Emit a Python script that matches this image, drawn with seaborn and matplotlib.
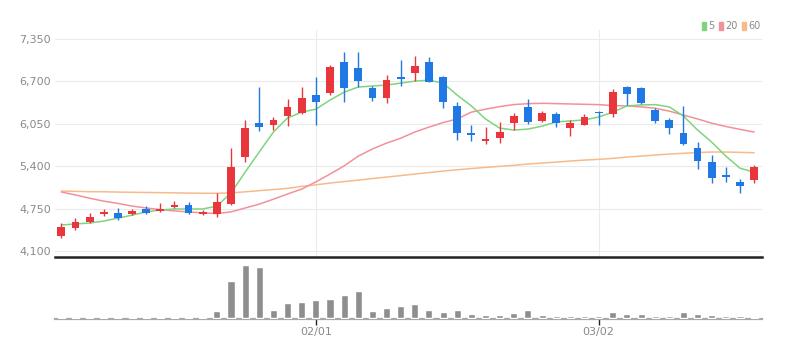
import matplotlib
matplotlib.use("Agg")
import matplotlib.pyplot as plt
from matplotlib.patches import Patch
from matplotlib.ticker import FuncFormatter
import numpy as np
import pandas as pd
import seaborn as sns

# ----------------------------------------------------------------------------
# Daily candles (50 sessions)
# ----------------------------------------------------------------------------
open_ = [4330, 4450, 4540, 4675, 4685, 4675, 4750, 4715, 4770, 4800,
         4675, 4665, 4820, 5545, 6065, 6030, 6170, 6210, 6500, 6520,
         7000, 6900, 6605, 6450, 6770, 6835, 7000, 6765, 6330, 5905,
         5790, 5830, 6060, 6305, 6095, 6200, 5980, 6040, 6225, 6200,
         6620, 6595, 6270, 6110, 5905, 5675, 5460, 5265, 5160, 5190]
close = [4475, 4550, 4625, 4700, 4600, 4715, 4685, 4750, 4805, 4685,
         4700, 4845, 5390, 5980, 6005, 6110, 6310, 6440, 6380, 6915,
         6605, 6705, 6450, 6730, 6735, 6940, 6695, 6390, 5910, 5880,
         5810, 5920, 6175, 6080, 6210, 6065, 6060, 6160, 6210, 6535,
         6505, 6365, 6095, 5980, 5735, 5485, 5225, 5230, 5095, 5385]
high = [4530, 4605, 4685, 4745, 4760, 4745, 4790, 4835, 4865, 4850,
        4730, 4990, 5675, 6110, 6620, 6155, 6425, 6620, 6765, 6950,
        7155, 7155, 6630, 6800, 7030, 7090, 7080, 6780, 6390, 6030,
        5995, 6080, 6220, 6425, 6250, 6230, 6110, 6195, 6250, 6580,
        6630, 6610, 6290, 6145, 6325, 5775, 5570, 5385, 5200, 5420]
low = [4300, 4420, 4530, 4635, 4575, 4650, 4665, 4700, 4760, 4665,
       4650, 4620, 4805, 5470, 5945, 5955, 6020, 6200, 6030, 6490,
       6390, 6620, 6400, 6375, 6635, 6710, 6690, 6290, 5795, 5790,
       5740, 5750, 5955, 6045, 6080, 6005, 5865, 6030, 6030, 6150,
       6340, 6350, 6060, 5895, 5730, 5355, 5145, 5160, 4985, 5145]

# moving averages as shown on the chart
ma5 = [4500, 4515, 4530, 4560, 4605, 4650, 4700, 4730, 4745, 4745,
       4745, 4790, 4990, 5310, 5620, 5925, 6140, 6230, 6275, 6415,
       6535, 6615, 6630, 6645, 6675, 6705, 6720, 6675, 6490, 6325,
       6125, 5985, 5955, 5970, 6015, 6080, 6095, 6110, 6155, 6230,
       6325, 6340, 6345, 6310, 6170, 5955, 5770, 5555, 5370, 5310]
ma20 = [5005, 4960, 4910, 4865, 4830, 4790, 4760, 4735, 4715, 4700,
        4685, 4675, 4700, 4760, 4820, 4895, 4975, 5050, 5160, 5280,
        5405, 5555, 5665, 5755, 5830, 5925, 6000, 6070, 6125, 6230,
        6275, 6315, 6345, 6360, 6365, 6360, 6355, 6350, 6345, 6330,
        6325, 6310, 6290, 6245, 6185, 6125, 6060, 6010, 5965, 5925]
ma60 = [5020, 5015, 5010, 5009, 5004, 5001, 4998, 4995, 4992, 4989,
        4986, 4985, 4992, 5008, 5026, 5043, 5061, 5092, 5115, 5142,
        5165, 5188, 5211, 5234, 5257, 5280, 5303, 5326, 5346, 5365,
        5382, 5398, 5415, 5434, 5449, 5464, 5480, 5495, 5506, 5521,
        5541, 5556, 5572, 5587, 5599, 5610, 5618, 5618, 5613, 5607]

volume = [30000] * 11 + [
    140000, 746000, 1080000, 1034000, 166000, 314000, 334000, 360000, 394000,
    460000, 560000, 154000, 214000, 246000, 294000, 166000, 134000, 166000,
    94000, 66000, 66000, 100000, 160000, 66000, 46000, 46000, 46000, 46000,
    134000, 94000, 94000, 54000, 54000, 126000, 94000, 66000, 54000, 54000,
    26000]

price_ticks = [4100, 4750, 5400, 6050, 6700, 7350]
date_tick_idx = [18, 38]
date_tick_labels = ["02/01", "03/02"]

UP = "#e8363c"
DOWN = "#1f78e3"
MA_COLORS = {"5": "#7fd47f", "20": "#f2919a", "60": "#f6bb8c"}
LABEL_GREY = "#8a8a8a"

df = pd.DataFrame({"open": open_, "close": close, "high": high, "low": low,
                   "ma5": ma5, "ma20": ma20, "ma60": ma60, "volume": volume})
df["i"] = np.arange(len(df))
df["up"] = df["close"] >= df["open"]

sns.set_theme(style="white")
plt.rcParams["font.family"] = ["Liberation Sans Narrow", "DejaVu Sans"]

fig = plt.figure(figsize=(7.97, 3.58), dpi=100)
ax = fig.add_axes([0.069, 0.282, 0.887, 0.634])
axv = fig.add_axes([0.069, 0.109, 0.887, 0.168], sharex=ax)

# moving averages (behind candles)
for key, col in [("60", "ma60"), ("20", "ma20"), ("5", "ma5")]:
    sns.lineplot(data=df, x="i", y=col, color=MA_COLORS[key], linewidth=1.1,
                 ax=ax, zorder=2)

# candles
colors = np.where(df["up"], UP, DOWN)
ax.vlines(df["i"], df["low"], df["high"], colors=colors, linewidth=1.0, zorder=3)
body_low = np.minimum(df["open"], df["close"])
body_h = np.maximum(np.abs(df["close"] - df["open"]), 22)
ax.bar(df["i"], body_h, bottom=body_low, width=0.55, color=colors,
       linewidth=0, zorder=4)

ax.set_xlim(-0.45, 49.55)
ax.set_ylim(4008, 7488)
ax.set_yticks(price_ticks)
ax.yaxis.set_major_formatter(FuncFormatter(lambda v, _: f"{int(v):,}"))
ax.set_xticks(date_tick_idx)
ax.tick_params(axis="x", length=0, labelbottom=False)
ax.tick_params(axis="y", length=0, labelsize=8, colors=LABEL_GREY, pad=3)
ax.grid(True, color="#ebebeb", linewidth=0.8)
ax.set_xlabel("")
ax.set_ylabel("")
for s in ["top", "right", "left"]:
    ax.spines[s].set_visible(False)
ax.spines["bottom"].set_color("#222222")
ax.spines["bottom"].set_linewidth(1.8)

# volume
sns.barplot(data=df, x="i", y="volume", color="#8e8e8e", width=0.5,
            saturation=1, ax=axv)
for p in axv.patches:
    p.set_zorder(3)
axv.set_xlim(-0.45, 49.55)
axv.set_ylim(-15000, 1200000)
axv.set_yticks([])
axv.set_xticks(date_tick_idx)
axv.set_xticklabels(date_tick_labels)
axv.tick_params(axis="x", length=4, width=1, color="#222222", labelsize=8,
                labelcolor=LABEL_GREY, pad=2, bottom=True)
axv.set_xlabel("")
axv.set_ylabel("")
for s in ["top", "right", "left"]:
    axv.spines[s].set_visible(False)
axv.spines["bottom"].set_color("#a8a8a8")
axv.spines["bottom"].set_linewidth(1.6)
axv.spines["bottom"].set_zorder(2)

# legend
handles = [Patch(color=MA_COLORS[k], label=k) for k in ["5", "20", "60"]]
leg = fig.legend(handles=handles, loc="upper right", bbox_to_anchor=(0.965, 0.965),
                 ncol=3, frameon=False, fontsize=7, handlelength=0.4,
                 handleheight=1.0, handletextpad=0.2, columnspacing=0.5)
for t in leg.get_texts():
    t.set_color(LABEL_GREY)

fig.savefig("out.png", dpi=100)
